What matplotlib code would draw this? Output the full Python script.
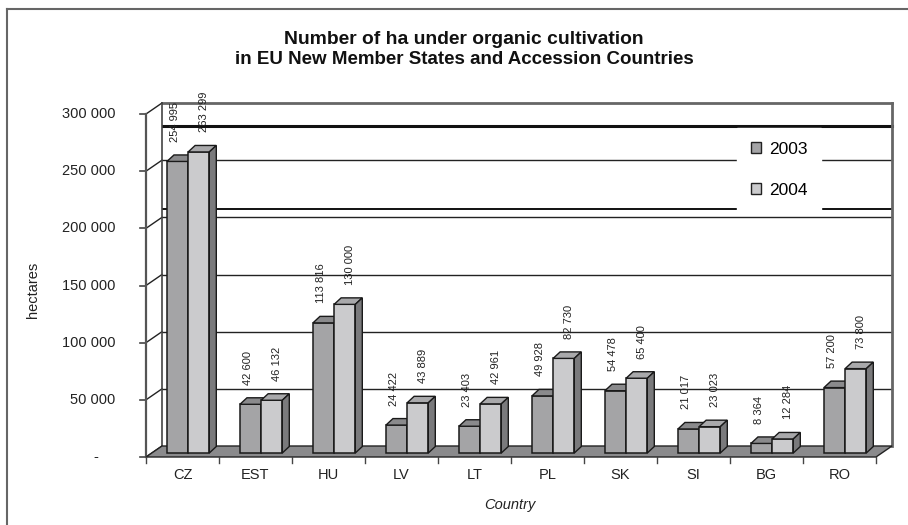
import matplotlib
matplotlib.use("Agg")
import matplotlib.pyplot as plt
from matplotlib.patches import Polygon, Rectangle

# Organic farming area by country (hectares)
countries = ["CZ", "EST", "HU", "LV", "LT", "PL", "SK", "SI", "BG", "RO"]
years = ["2003", "2004"]
ha_2003 = [254995, 42600, 113816, 24422, 23403, 49928, 54478, 21017, 8364, 57200]
ha_2004 = [263299, 46132, 130000, 43889, 42961, 82730, 65400, 23023, 12284, 73800]
y_ticks = [0, 50000, 100000, 150000, 200000, 250000, 300000]
y_tick_labels = ["-\u2007\u2007", "50 000", "100 000", "150 000", "200 000", "250 000", "300 000"]

plt.rcParams["font.family"] = ["Liberation Sans", "DejaVu Sans"]

W, H = 908, 525
fig = plt.figure(figsize=(W / 100, H / 100), dpi=100)
fig.patch.set_facecolor("white")

# plot box in pixel units -> axes placement
X0, X1 = 146, 876
Y0, Y1 = 457, 114
ax = fig.add_axes([X0 / W, 1 - Y0 / H, (X1 - X0) / W, (Y0 - Y1) / H])
n = len(countries)
ymax = 300000
ax.set_xlim(0, n)
ax.set_ylim(0, ymax)
ax.axis("off")

# pixel -> data conversions for the pseudo-3D depth
px_x = n / (X1 - X0)
px_y = ymax / (Y0 - Y1)
Dx, Dy = 16 * px_x, 11 * px_y        # wall / floor depth
Fx, Fy = 6 * px_x, 4 * px_y          # bar front plane offset
dx, dy = 7 * px_x, 6.5 * px_y        # bar depth

kw = dict(clip_on=False)

# back wall
ax.add_patch(Rectangle((Dx, Dy), n, ymax, facecolor="white", edgecolor="none", zorder=1, **kw))
for v in y_ticks[1:-1]:
    ax.plot([Dx, n + Dx], [v + Dy, v + Dy], color="#222222", lw=1.0, zorder=2, **kw)
ax.plot([Dx, n + Dx], [ymax + Dy] * 2, color="#666666", lw=2.0, zorder=2, **kw)
# extra rules across the back wall
for v, lw in [(ymax + Dy - 23 * px_y, 2.2), (200000 + Dy + 8 * px_y, 1.4)]:
    ax.plot([Dx, n + Dx], [v, v], color="#111111", lw=lw, zorder=2, **kw)
ax.plot([n + Dx, n + Dx], [Dy, ymax + Dy], color="#666666", lw=2.0, zorder=2, **kw)

# left wall
ax.add_patch(Polygon([(0, 0), (0, ymax), (Dx, ymax + Dy), (Dx, Dy)], closed=True,
                     facecolor="white", edgecolor="none", zorder=2, **kw))
for v in y_ticks:
    ax.plot([0, Dx], [v, v + Dy], color="#222222", lw=1.0, zorder=3, **kw)
    ax.plot([-6 * px_x, 0], [v, v], color="#444444", lw=1.2, zorder=3, **kw)
ax.plot([Dx, Dx], [Dy, ymax + Dy], color="#444444", lw=1.2, zorder=3, **kw)
ax.plot([0, 0], [0, ymax], color="#555555", lw=1.6, zorder=3, **kw)

# floor
ax.add_patch(Polygon([(0, 0), (n, 0), (n + Dx, Dy), (Dx, Dy)], closed=True,
                     facecolor="#8a8a8c", edgecolor="#222222", lw=1.0, zorder=4, **kw))
for i in range(n + 1):
    ax.plot([i, i], [0, -6 * px_y], color="#444444", lw=1.0, zorder=4, **kw)

# bars
bw = 0.29
front_cols = ["#a4a4a6", "#cbcbcd"]
top_cols = ["#8a8a8c", "#a9a9ab"]
side_col = "#7a7a7c"
series = [ha_2003, ha_2004]
for i in range(n):
    for s, vals in enumerate(series):
        v = vals[i]
        x0 = i + 0.205 + s * bw + Fx
        x1 = x0 + bw
        z = 5 + s
        ax.bar(x0, v, width=bw, bottom=Fy, align="edge", color=front_cols[s],
               edgecolor="#1a1a1a", lw=1.1, zorder=z, **kw)
        ax.add_patch(Polygon([(x0, Fy + v), (x1, Fy + v), (x1 + dx, Fy + v + dy), (x0 + dx, Fy + v + dy)],
                             closed=True, facecolor=top_cols[s], edgecolor="#1a1a1a", lw=1.0, zorder=z, **kw))
        ax.add_patch(Polygon([(x1, Fy), (x1, Fy + v), (x1 + dx, Fy + v + dy), (x1 + dx, Fy + dy)],
                             closed=True, facecolor=side_col, edgecolor="#1a1a1a", lw=1.0, zorder=z, **kw))
        lx = (x0 + x1) / 2 + (-3 if s == 0 else 5) * px_x
        lab = f"{v:,}".replace(",", " ")
        ax.text(lx, Fy + v + dy + 13 * px_y, lab, rotation=90, ha="center", va="bottom",
                fontsize=8, color="#222222", zorder=4.5)

# axis texts
for v, t in zip(y_ticks, y_tick_labels):
    ax.text(-31 * px_x, v, t, ha="right", va="center", fontsize=10.5, color="#222222", **kw)
for i, c in enumerate(countries):
    ax.text(i + 0.5, -18 * px_y, c, ha="center", va="center", fontsize=10.5, color="#222222", **kw)

fig.text(510 / W, 1 - 505 / H, "Country", ha="center", va="center", fontsize=10.5,
         style="italic", color="#222222")
fig.text(33 / W, 1 - 290 / H, "hectares", ha="center", va="center", fontsize=10.5,
         rotation=90, color="#222222")
title_lines = ["Number of ha under organic cultivation",
               "in EU New Member States and Accession Countries"]
title_sizes = [13.9, 13.5]
for k, (line, fs) in enumerate(zip(title_lines, title_sizes)):
    fig.text(464 / W, 1 - (40 + 20 * k) / H, line, ha="center", va="center",
             fontsize=fs, fontweight="bold", color="#111111")

# legend
handles = [Rectangle((0, 0), 1, 1, facecolor=front_cols[s], edgecolor="#222222", lw=1.0) for s in range(2)]
leg = fig.legend(handles, years, loc="upper left", bbox_to_anchor=(737 / W, 1 - 128 / H),
                 frameon=True, fontsize=12.5, handlelength=0.6, handleheight=0.6,
                 handletextpad=0.45, labelspacing=1.5, borderpad=0.78, borderaxespad=0)
leg.get_frame().set_edgecolor("white")
leg.get_frame().set_facecolor("white")
leg.get_frame().set_alpha(1)
leg.get_frame().set_boxstyle("square", pad=0)
leg.set_zorder(20)

# chart area border
fig.add_artist(plt.Line2D([7 / W, 7 / W], [0, 1 - 9 / H], color="#666666", lw=1.5))
fig.add_artist(plt.Line2D([7 / W, 1], [1 - 9 / H, 1 - 9 / H], color="#666666", lw=1.5))

fig.savefig("out.png", dpi=100)
